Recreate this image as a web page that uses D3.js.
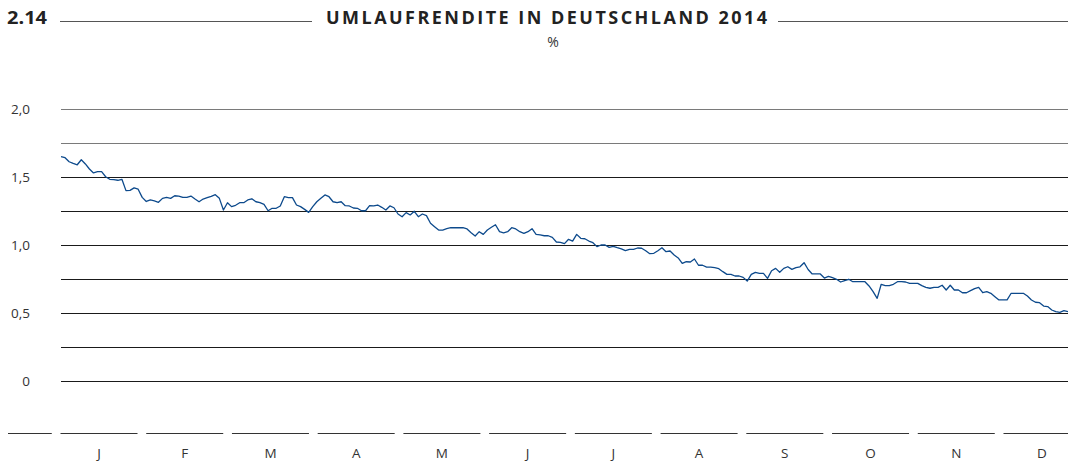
<!DOCTYPE html>
<html><head><meta charset="utf-8">
<script src="https://cdn.jsdelivr.net/npm/d3@7"></script>
<style>
html,body{margin:0;padding:0;background:#fff;}
svg{display:block;font-family:"Open Sans","Noto Sans",sans-serif;}
</style></head>
<body>
<svg id="c" width="1068" height="463"></svg>
<script>
const chartNumber = "2.14";
const chartTitle = "UMLAUFRENDITE IN DEUTSCHLAND 2014";
const unitLabel = "%";
const months = ["J","F","M","A","M","J","J","A","S","O","N","D"];
const gridValues = [0,0.25,0.5,0.75,1.0,1.25,1.5,1.75,2.0];
const tickValues = [0,0.5,1.0,1.5,2.0];
const tickLabels = ["0","0,5","1,0","1,5","2,0"];
// Umlaufrendite, daily (trading days) 2014, in %
const yields = [
1.649,1.642,1.612,1.600,1.590,1.627,1.596,1.559,1.530,1.539,
1.539,1.502,1.483,1.480,1.476,1.483,1.400,1.402,1.420,1.410,
1.350,1.320,1.331,1.324,1.314,1.343,1.350,1.343,1.362,1.360,
1.350,1.350,1.360,1.338,1.318,1.338,1.348,1.358,1.370,1.343,
1.257,1.311,1.282,1.292,1.311,1.311,1.331,1.340,1.318,1.311,
1.299,1.252,1.270,1.270,1.287,1.355,1.348,1.348,1.294,1.282,
1.262,1.240,1.282,1.318,1.343,1.368,1.355,1.318,1.311,1.318,
1.289,1.287,1.272,1.270,1.252,1.252,1.289,1.287,1.294,1.277,
1.257,1.287,1.274,1.228,1.208,1.238,1.221,1.248,1.208,1.228,
1.216,1.160,1.135,1.110,1.110,1.120,1.127,1.127,1.127,1.127,
1.118,1.090,1.066,1.098,1.078,1.110,1.130,1.149,1.098,1.090,
1.098,1.127,1.118,1.098,1.085,1.098,1.120,1.078,1.074,1.068,
1.068,1.056,1.022,1.020,1.010,1.042,1.029,1.078,1.049,1.046,
1.029,1.017,0.988,1.000,1.000,0.983,0.990,0.980,0.971,0.958,
0.968,0.968,0.978,0.976,0.958,0.936,0.939,0.958,0.980,0.951,
0.956,0.926,0.905,0.865,0.877,0.875,0.897,0.851,0.851,0.838,
0.838,0.833,0.826,0.804,0.784,0.784,0.772,0.772,0.762,0.735,
0.784,0.799,0.792,0.792,0.755,0.811,0.828,0.799,0.828,0.840,
0.821,0.833,0.840,0.870,0.820,0.787,0.787,0.787,0.757,0.770,
0.760,0.748,0.728,0.738,0.748,0.730,0.730,0.730,0.730,0.699,
0.657,0.608,0.711,0.701,0.701,0.711,0.730,0.730,0.728,0.718,
0.718,0.718,0.701,0.689,0.682,0.689,0.689,0.704,0.669,0.704,
0.669,0.669,0.649,0.649,0.664,0.679,0.689,0.649,0.657,0.645,
0.620,0.596,0.596,0.596,0.645,0.645,0.645,0.645,0.625,0.596,
0.579,0.576,0.551,0.547,0.522,0.510,0.505,0.517,0.510
];

const svg = d3.select("#c");
const W = 1068;

// Header
svg.append("text").attr("x",7).attr("y",24)
  .attr("font-size",18).attr("font-weight",700).attr("fill","#222")
  .attr("textLength",40).attr("lengthAdjust","spacingAndGlyphs").text(chartNumber);
svg.append("line").attr("x1",60).attr("x2",312).attr("y1",21.5).attr("y2",21.5)
  .attr("stroke","#555").attr("stroke-width",1.2);
svg.append("line").attr("x1",778).attr("x2",W).attr("y1",21.5).attr("y2",21.5)
  .attr("stroke","#555").attr("stroke-width",1.2);
svg.append("text").attr("x",326).attr("y",24)
  .attr("font-size",18).attr("font-weight",700).attr("fill","#222")
  .attr("textLength",441).attr("lengthAdjust","spacing").text(chartTitle);
svg.append("text").attr("x",553).attr("y",47).attr("text-anchor","middle")
  .attr("font-size",14).attr("fill","#333").text(unitLabel);

// Scales
const y = d3.scaleLinear().domain([0,2]).range([381,109]);
const x = d3.scaleLinear().domain([0, yields.length-1]).range([61, W]);
const mx = d3.scalePoint().domain(d3.range(months.length)).range([99,1042]);
const step = mx.step();

// Gridlines
svg.append("g").selectAll("line").data(gridValues).join("line")
  .attr("x1",61).attr("x2",W)
  .attr("y1",d=>Math.round(y(d))+0.5).attr("y2",d=>Math.round(y(d))+0.5)
  .attr("stroke",d=>d>=1.75?"#7a7a7a":"#1a1a1a").attr("stroke-width",1.1);

// Y tick labels
svg.append("g").selectAll("text").data(tickValues).join("text")
  .attr("x",30).attr("y",d=>y(d)).attr("dy","0.35em")
  .attr("text-anchor","end").attr("font-size",13.5).attr("fill","#333")
  .text((d,i)=>tickLabels[i]);

// Line
const line = d3.line().x((d,i)=>x(i)).y(d=>y(d));
svg.append("path").datum(yields).attr("d",line)
  .attr("fill","none").attr("stroke","#0d4a8c").attr("stroke-width",1.3)
  .attr("stroke-linejoin","round");

// Bottom month segments
const segs = [-1].concat(d3.range(months.length));
svg.append("g").selectAll("line").data(segs).join("line")
  .attr("x1",d=>Math.max(8, 99 + d*step - 38.5))
  .attr("x2",d=>Math.min(W, 99 + d*step + 38.5))
  .attr("y1",433.5).attr("y2",433.5)
  .attr("stroke","#333").attr("stroke-width",1.1);

svg.append("g").selectAll("text").data(months).join("text")
  .attr("x",(d,i)=>mx(i)).attr("y",458).attr("text-anchor","middle")
  .attr("font-size",13.5).attr("fill","#333").text(d=>d);
</script>
</body></html>
